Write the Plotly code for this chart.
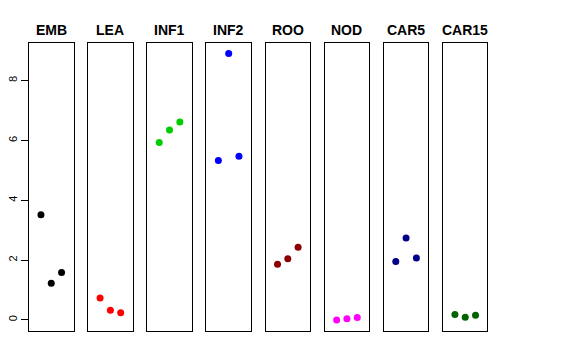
import plotly.graph_objects as go

categories = ["EMB", "LEA", "INF1", "INF2", "ROO", "NOD", "CAR5", "CAR15"]
replicate = [1, 2, 3]
emb = [3.52, 1.23, 1.59]
lea = [0.73, 0.32, 0.24]
inf1 = [5.93, 6.35, 6.62]
inf2 = [5.33, 8.91, 5.47]
roo = [1.86, 2.05, 2.43]
nod = [0.00, 0.04, 0.08]
car5 = [1.95, 2.74, 2.07]
car15 = [0.18, 0.09, 0.16]
series = [emb, lea, inf1, inf2, roo, nod, car5, car15]
colors = ["#000000", "#FF0000", "#00CD00", "#0000FF", "#8B0000", "#FF00FF", "#00008B", "#006400"]
y_ticks = [0, 2, 4, 6, 8]

W, H = 576, 360
fig = go.Figure()
left0, step, pw = 29.0, 59.14, 44.5
top_px, bot_px = 43.3, 330.7
ydom = [1 - bot_px / H, 1 - top_px / H]

for i, (cat, vals, col) in enumerate(zip(categories, series, colors)):
    n = "" if i == 0 else str(i + 1)
    x0 = (left0 + step * i) / W
    x1 = (left0 + step * i + pw) / W
    fig.add_trace(go.Scatter(
        x=replicate, y=vals, mode="markers",
        marker=dict(color=col, size=7, line=dict(width=0)),
        xaxis="x" + n, yaxis="y" + n, showlegend=False, hoverinfo="skip"))
    fig.layout["xaxis" + n] = dict(
        domain=[x0, x1], range=[-0.16, 4.16], showgrid=False, zeroline=False,
        showticklabels=False, ticks="", showline=True, mirror=True,
        linecolor="black", linewidth=1, anchor="y" + n, fixedrange=True)
    yax = dict(
        domain=ydom, range=[-0.36, 9.25], showgrid=False, zeroline=False,
        showline=True, mirror=True, linecolor="black", linewidth=1,
        anchor="x" + n, fixedrange=True)
    if i == 0:
        yax.update(tickvals=y_ticks, ticks="outside", ticklen=7, tickwidth=1,
                   tickcolor="black", tickangle=-90,
                   tickfont=dict(family="Liberation Sans", size=11, color="black"))
    else:
        yax.update(showticklabels=False, ticks="")
    fig.layout["yaxis" + n] = yax
    fig.add_annotation(
        x=(x0 + x1) / 2, y=1 - 29.5 / H, xref="paper", yref="paper",
        text="<b>" + cat + "</b>", showarrow=False, xanchor="center", yanchor="middle",
        font=dict(family="Liberation Sans", size=14, color="black"))

fig.update_layout(
    width=W, height=H, margin=dict(l=0, r=0, t=0, b=0),
    paper_bgcolor="white", plot_bgcolor="white")

fig.write_html("out.html", config={"displayModeBar": False},
               post_script="document.body.style.margin='0px';document.body.style.padding='0px';")
